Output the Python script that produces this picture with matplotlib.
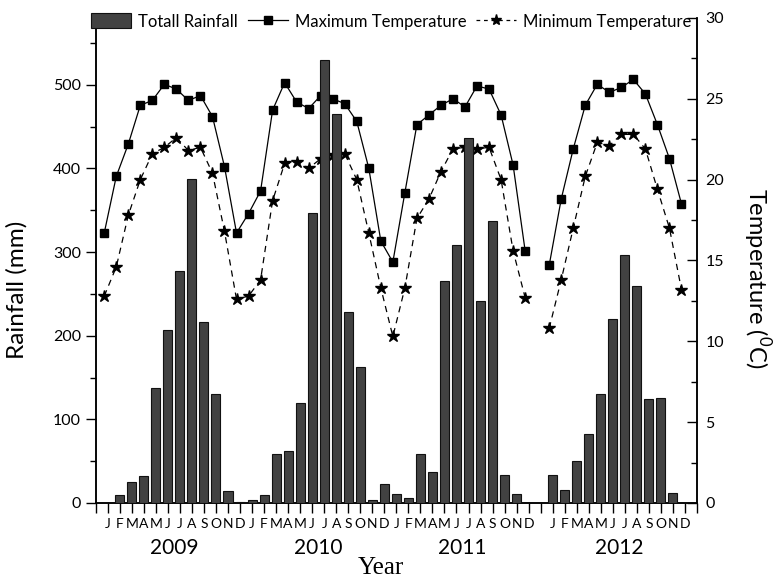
import numpy as np
import matplotlib
matplotlib.use("Agg")
import matplotlib.pyplot as plt
import matplotlib.transforms as mtransforms
from matplotlib.ticker import MultipleLocator, FixedLocator
from matplotlib.patches import Patch
from matplotlib.lines import Line2D

# Monthly totals and mean temperatures, 2009-2012
years = ["2009", "2010", "2011", "2012"]
months = ["J", "F", "M", "A", "M", "J", "J", "A", "S", "O", "N", "D"]

rain_2009 = [0, 10, 25, 32, 138, 207, 277, 387, 217, 130, 14, 1.5]
rain_2010 = [3, 10, 58, 62, 120, 347, 530, 465, 228, 163, 3, 23]
rain_2011 = [11, 6, 58, 37, 265, 309, 437, 241, 337, 33, 11, 0]
rain_2012 = [33, 16, 50, 83, 130, 220, 296, 259, 124, 126, 12, 0]

tmax_2009 = [16.7, 20.2, 22.2, 24.6, 24.9, 25.9, 25.6, 24.9, 25.2, 23.9, 20.8, 16.7]
tmax_2010 = [17.9, 19.3, 24.3, 26.0, 24.8, 24.4, 25.2, 25.0, 24.7, 23.6, 20.7, 16.2]
tmax_2011 = [14.9, 19.2, 23.4, 24.0, 24.6, 25.0, 24.5, 25.8, 25.6, 24.0, 20.9, 15.6]
tmax_2012 = [14.7, 18.8, 21.9, 24.6, 25.9, 25.4, 25.7, 26.2, 25.3, 23.4, 21.3, 18.5]

tmin_2009 = [12.8, 14.6, 17.8, 20.0, 21.6, 22.0, 22.6, 21.8, 22.0, 20.4, 16.8, 12.6]
tmin_2010 = [12.8, 13.8, 18.7, 21.0, 21.1, 20.7, 21.3, 21.5, 21.6, 20.0, 16.7, 13.3]
tmin_2011 = [10.3, 13.3, 17.6, 18.8, 20.5, 21.9, 22.0, 21.9, 22.0, 20.0, 15.6, 12.7]
tmin_2012 = [10.8, 13.8, 17.0, 20.2, 22.3, 22.1, 22.8, 22.8, 21.9, 19.4, 17.0, 13.2]

# 2012 starts one empty slot after December 2011
year_start = [0, 12, 24, 37]

rain = [rain_2009, rain_2010, rain_2011, rain_2012]
tmax = [tmax_2009, tmax_2010, tmax_2011, tmax_2012]
tmin = [tmin_2009, tmin_2010, tmin_2011, tmin_2012]

x_bar = np.concatenate([np.arange(12) + s for s in year_start])
y_bar = np.concatenate(rain)


# continuous line for 2009-2011, broken before 2012
def line_series(vals):
    xs, ys = [], []
    for s, v in zip(year_start, vals):
        if xs and s != xs[-1] + 1:
            xs.append(np.nan)
            ys.append(np.nan)
        xs.extend(np.arange(12) + s)
        ys.extend(v)
    return np.array(xs, float), np.array(ys, float)


xmax_, ymax_ = line_series(tmax)
xmin_, ymin_ = line_series(tmin)

plt.rcParams["font.family"] = ["Lato", "DejaVu Sans"]
plt.rcParams["mathtext.fontset"] = "custom"
plt.rcParams["mathtext.rm"] = "Lato"

fig = plt.figure(figsize=(7.82, 5.80), dpi=100)
ax = fig.add_axes([0.1224, 0.1328, 0.7689, 0.8362])
ax2 = ax.twinx()

bar_color = "#424242"
ax.bar(x_bar, y_bar, width=0.75, color=bar_color, edgecolor="#111111",
       linewidth=0.8, zorder=3)

# temperature markers sit a little left of the month centre
shift = mtransforms.ScaledTranslation(-0.035, 0, fig.dpi_scale_trans)
ax2.plot(xmax_, ymax_, color="black", lw=0.9, ls="-", marker="s",
         markersize=6, markerfacecolor="black", markeredgecolor="black",
         transform=ax2.transData + shift)
ax2.plot(xmin_, ymin_, color="black", lw=0.9, ls=(0, (5, 4)), marker="*",
         markersize=9, markerfacecolor="black", markeredgecolor="black",
         transform=ax2.transData + shift)

# rainfall bars are drawn over the temperature lines
ax.set_zorder(ax2.get_zorder() + 1)
ax.patch.set_visible(False)

ax.set_xlim(-1, 49)
ax.set_ylim(0, 580)
ax2.set_ylim(0, 30)

for a in (ax, ax2):
    a.spines["top"].set_visible(False)
    for sp in a.spines.values():
        sp.set_linewidth(1.1)

# x ticks: one per slot, labelled with month initials
ax.xaxis.set_major_locator(FixedLocator(np.arange(-1, 50)))
tick_labels = []
for i in range(-1, 50):
    lab = ""
    for s in year_start:
        if s <= i < s + 12:
            lab = months[i - s]
    tick_labels.append(lab)
ax.set_xticklabels(tick_labels)
ax.tick_params(axis="x", direction="out", length=7, width=1.0, pad=4,
               labelsize=10)

ax.set_yticks(np.arange(0, 501, 100))
ax.yaxis.set_minor_locator(FixedLocator(np.arange(50, 580, 100)))
ax.tick_params(axis="y", which="major", direction="out", length=7, width=1.0,
               labelsize=11.5)
ax.tick_params(axis="y", which="minor", direction="out", length=4, width=1.0)

ax2.set_yticks(np.arange(0, 31, 5))
ax2.yaxis.set_minor_locator(MultipleLocator(2.5))
ax2.tick_params(axis="y", which="major", direction="in", length=7, width=1.0,
                labelsize=11.5, pad=6)
ax2.tick_params(axis="y", which="minor", direction="in", length=4, width=1.0)

ax.set_ylabel("Rainfall (mm)", fontsize=17.5)
ax.yaxis.set_label_coords(-0.114, 0.44)
ax2.set_ylabel("Temperature ($^{0}$C)", fontsize=17, rotation=270,
               va="center")
ax2.yaxis.set_label_coords(1.10, 0.464)

# year labels under each block of months
for s, yr in zip(year_start, years):
    ax.text(s + 5.5, -0.093, yr, transform=ax.get_xaxis_transform(),
            ha="center", va="center", fontsize=15)

fig.text(0.487, 0.021, "Year", ha="center", va="center", fontsize=18,
         family=["Liberation Serif", "DejaVu Serif"])

handles = [
    Patch(facecolor=bar_color, edgecolor="#111111", linewidth=0.8),
    Line2D([], [], color="black", lw=0.9, marker="s", markersize=5.5),
    Line2D([], [], color="black", lw=0.9, ls=(0, (3, 3)), marker="*",
           markersize=8),
]
labels = ["Totall Rainfall", "Maximum Temperature", "Minimum Temperature"]
fig.legend(handles, labels, loc="center left", bbox_to_anchor=(0.117, 0.963),
           ncol=3, frameon=False, fontsize=12, handlelength=2.4,
           handleheight=1.0, handletextpad=0.4, columnspacing=0.6,
           borderaxespad=0, borderpad=0)

fig.savefig("out.png", dpi=100)
